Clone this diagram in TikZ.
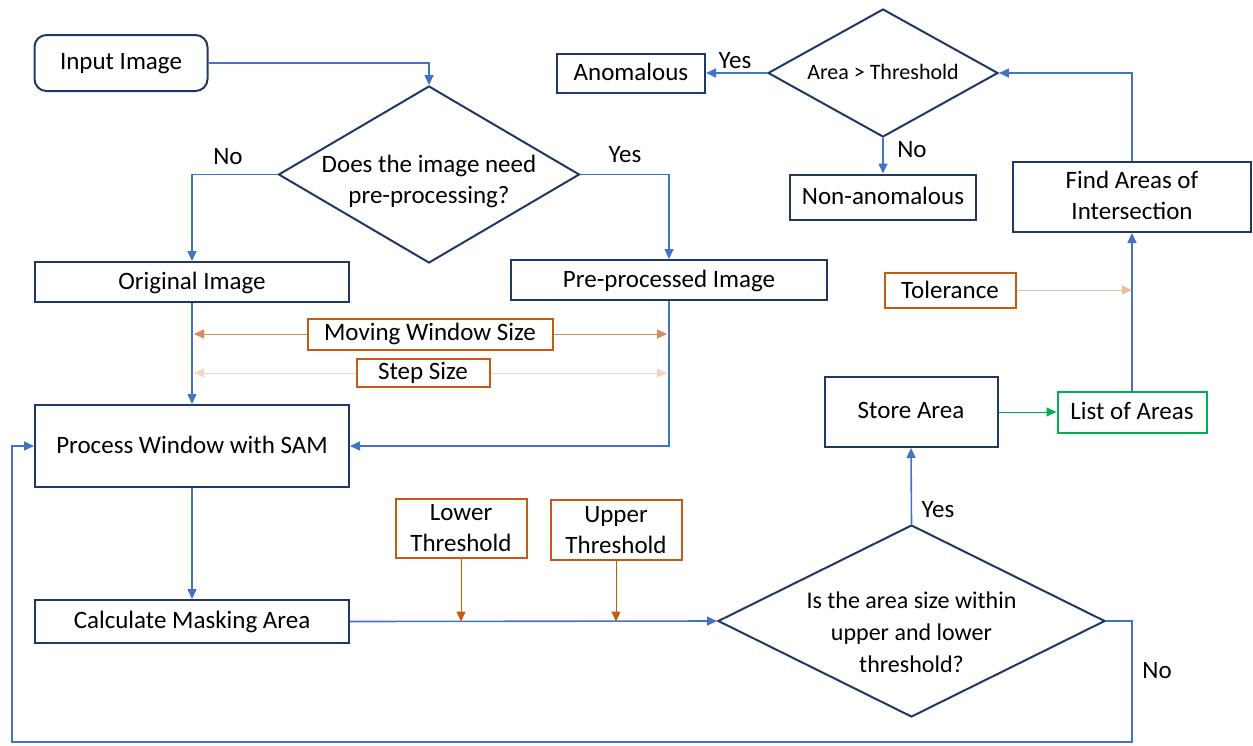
\documentclass[tikz,border=0pt]{standalone}
\usepackage{fontspec}
\setmainfont{Carlito}
\usetikzlibrary{shapes.geometric,arrows.meta}
\definecolor{boxline}{HTML}{1F3864}
\definecolor{flow}{HTML}{4472C4}
\definecolor{param}{HTML}{C55A11}
\definecolor{listgreen}{HTML}{00B050}
\tikzstyle{txt} = [font=\fontsize{12.5}{15.5}\selectfont]
\tikzstyle{stepbox} = [txt,draw=boxline,line width=1pt,rectangle,inner sep=0pt,align=center,text depth=0.3ex]
\tikzstyle{parambox} = [txt,draw=param,line width=1pt,rectangle,inner sep=0pt,align=center]
\tikzstyle{decision} = [draw=boxline,line width=1pt,diamond,inner sep=0pt]
\tikzstyle{flowarrow} = [draw=flow,line width=0.8pt,-{Triangle[length=5pt,width=4.5pt]}]
\tikzstyle{paramarrow} = [draw=param!70,line width=0.5pt,-{Triangle[length=5pt,width=4.5pt]},color=param]
\tikzstyle{answer} = [txt]
\begin{document}
\begin{tikzpicture}[x=0.5pt,y=-0.5pt]
      \useasboundingbox (0,0) rectangle (1253,745);
      % process boxes
      \node[stepbox, rounded corners=6pt, minimum width=86.5pt, minimum height=28pt] (input) at (121,63) {Input Image};
      \foreach \nodename/\x/\y/\w/\h/\value in {
        orig/192/282/157/20/Original Image,
        pre/669/280/158/20/Pre-processed Image,
        proc/192/446/157/41/Process Window with SAM,
        calc/192/621.5/157/21.5/Calculate Masking Area,
        store/911/412/86.5/35/Store Area,
        find/1132/197/119/35/{Find Areas of\\Intersection},
        anom/631/73/74/19.5/Anomalous,
        nonanom/883/197/93/22.5/Non-anomalous}
      {
        \node[stepbox, minimum width=\w pt, minimum height=\h pt] (\nodename) at (\x,\y) {\value};
      };
      \node[stepbox, draw=listgreen, minimum width=74.5pt, minimum height=20.5pt] (list) at (1132,412) {List of Areas};
      % parameters
      \foreach \nodename/\x/\y/\w/\h/\value in {
        moving/430/334/122.5/15.5/Moving Window Size,
        stepsize/423/373/66.5/14/Step Size,
        lower/461/528.5/65.5/29.5/{Lower\\Threshold},
        upper/616/530/65.5/30/{Upper\\Threshold},
        tol/950/290/65.5/17.5/Tolerance}
      {
        \node[parambox, minimum width=\w pt, minimum height=\h pt] (\nodename) at (\x,\y) {\value};
      };
      % decisions
      \node[decision, minimum width=150.5pt, minimum height=88.5pt,
        label={[txt,align=center,yshift=-3.5pt]center:Does the image need\\pre-processing?}] (needpre) at (429,174.5) {};
      \node[decision, minimum width=193.5pt, minimum height=96pt,
        label={[txt,align=center,yshift=-5.5pt,font=\fontsize{12}{16}\selectfont]center:Is the area size within\\upper and lower\\threshold?}] (within) at (911.5,621) {};
      \node[decision, minimum width=115pt, minimum height=64pt,
        label={[font=\fontsize{11}{13}\selectfont,yshift=0.5pt]center:Area > Threshold}] (bigarea) at (883,73) {};
      % answers
      \foreach \nodename/\x/\y/\value in {
        noA/228/157/No, yesA/625/155/Yes, yesB/938/510/Yes,
        noB/1157/671/No, yesC/735/61/Yes, noC/912/150/No}
      {
        \node[answer] (\nodename) at (\x,\y) {\value};
      };
      \coordinate (loopR) at (1132,742);
      \coordinate (loopL) at (12,742);
      %edges
      \path[flowarrow] (input.east) -| (needpre.north);
      \path[flowarrow] (needpre.west) -| (orig.north);
      \path[flowarrow] (needpre.east) -| (pre.north);
      \path[flowarrow] (orig.south) -- (proc.north);
      \path[flowarrow] (pre.south) |- (proc.east);
      \path[flowarrow] (proc.south) -- (calc.north);
      \path[flowarrow] (calc.east) -- (within.west);
      \path[flowarrow] (within.east) -| (loopR) -- (loopL) |- (proc.west);
      \path[flowarrow] (within.north) -- (store.south);
      \path[flowarrow] (list.north) -- (find.south);
      \path[flowarrow] (find.north) |- (bigarea.east);
      \path[flowarrow] (bigarea.west) -- (anom.east);
      \path[flowarrow] (bigarea.south) -- (nonanom.north);
      \path[draw=listgreen!60,line width=0.5pt,-{Triangle[length=5pt,width=4.5pt]},color=listgreen] (store.east) -- (list.west);
      \foreach \startnode/\side/\endnode/\shade in {moving/west/orig/70, moving/east/pre/70, stepsize/west/orig/25, stepsize/east/pre/25}
      {
        \path[paramarrow,draw=param!\shade,shorten >=1pt] (\startnode.\side) -- (\startnode.\side -| \endnode.south);
      };
      \path[paramarrow] (lower.south) -- (lower.south |- calc.east);
      \path[paramarrow] (upper.south) -- (upper.south |- calc.east);
      \path[paramarrow,draw=param!40] (tol.east) -- (tol.east -| find.south);
    \end{tikzpicture}
\end{document}
